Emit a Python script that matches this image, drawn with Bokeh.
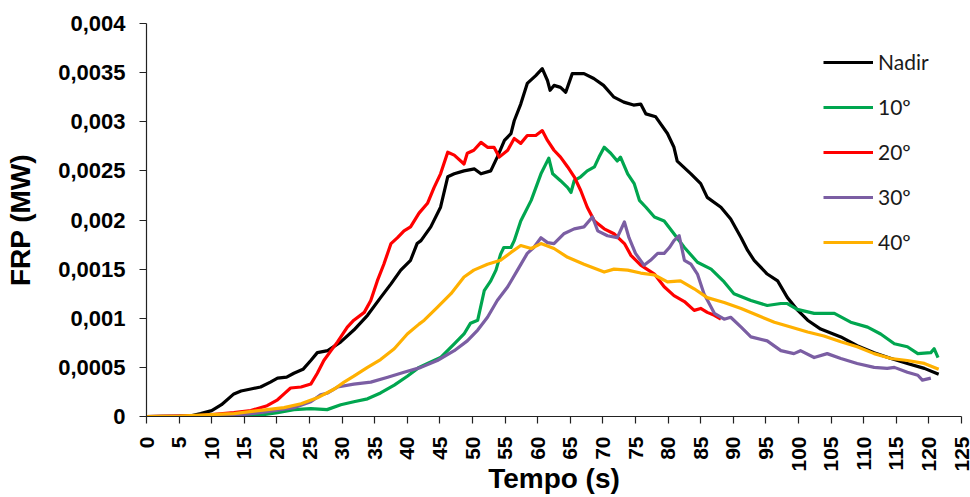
import math
from bokeh.plotting import figure
from bokeh.models import Range1d, FixedTicker, CustomJSTickFormatter, Legend, LegendItem
from bokeh.embed import file_html
from bokeh.resources import INLINE

# ---- data (time in s, FRP in MW) ----
nadir_t = [0, 5, 7, 8.3, 10, 11.5, 13.4, 14.5, 16, 17.5, 19, 20.1, 21.5, 22.6, 24, 25.2, 26.2, 27.8,
           29.8, 31.8, 33.9, 35.9, 37.5, 39, 40.5, 41.5, 42.1, 43.6, 45.1, 46.2, 47.2, 48.7, 50.3,
           51.3, 52.8, 53.8, 54.9, 55.9, 56.4, 57.4, 58.4, 59.7, 60.7, 61.5, 61.9, 62.5, 63.5, 64.3,
           65.3, 67.1, 68.6, 70.1, 71.7, 73.2, 74.7, 75.8, 76.6, 78.1, 79.9, 80.9, 81.4, 83.5, 85,
           86, 88.1, 89.6, 91.2, 92.2, 93.2, 95.2, 96.8, 98.3, 99.9, 101.4, 103.4, 106.5, 109,
           111.6, 114.2, 116.7, 119.3, 121.5]
nadir_frp = [0, 0.000005, 0.00001, 0.00003, 0.00006, 0.00012, 0.00023, 0.00026, 0.00028, 0.0003,
             0.00035, 0.00039, 0.0004, 0.00044, 0.00048, 0.00057, 0.00065, 0.00067, 0.00076,
             0.00088, 0.00103, 0.00121, 0.00135, 0.00149, 0.00159, 0.00176, 0.00179, 0.00193,
             0.00213, 0.00244, 0.00247, 0.0025, 0.00252, 0.00247, 0.0025, 0.00264, 0.00281,
             0.00288, 0.00301, 0.00318, 0.00339, 0.00347, 0.00354, 0.00342, 0.00332, 0.00337,
             0.00335, 0.0033, 0.00349, 0.00349, 0.00344, 0.00337, 0.00325, 0.0032, 0.00317,
             0.00318, 0.00308, 0.00305, 0.00288, 0.00274, 0.0026, 0.00247, 0.00237, 0.00223,
             0.00213, 0.00201, 0.00182, 0.00169, 0.00159, 0.00145, 0.00138, 0.00121, 0.00108,
             0.00098, 0.00089, 0.00081, 0.00072, 0.00065, 0.00059, 0.00054, 0.00049, 0.00043]

d10_t = [0, 10, 15, 17, 20.1, 22.6, 25.2, 27.7, 29.8, 31.8, 33.9, 35.9, 38, 40, 41.8, 43.1, 45.1,
         47.2, 48.7, 49.7, 50.8, 51.8, 52.8, 53.6, 54.3, 54.8, 55.9, 56.4, 57.4, 59, 60.5, 61.7,
         62.3, 63.5, 64.6, 65.1, 65.6, 66.6, 67.6, 68.7, 69.4, 70.2, 71.2, 72.2, 72.7, 73.8, 74.8,
         75.6, 76.6, 77.9, 79.4, 80.9, 82.5, 84.5, 86.6, 88.6, 90.1, 92.7, 95.2, 97.3, 98.3, 99.8,
         102.4, 105.5, 108, 110.6, 112.6, 114.7, 116.7, 118.3, 120.3, 120.8, 121.4]
d10_frp = [0, 0, 0.000005, 0.00001, 0.00004, 0.00007, 0.00008, 0.00007, 0.00012, 0.00015, 0.00018,
           0.00024, 0.00032, 0.00041, 0.0005, 0.00054, 0.0006, 0.00074, 0.00084, 0.00095,
           0.00098, 0.00128, 0.00138, 0.00149, 0.00165, 0.00172, 0.00172, 0.00179, 0.00199,
           0.0022, 0.00247, 0.00263, 0.00247, 0.0024, 0.00233, 0.00228, 0.0024, 0.00244, 0.0025,
           0.00254, 0.00264, 0.00274, 0.00268, 0.0026, 0.00264, 0.00247, 0.00237, 0.0022,
           0.00213, 0.00203, 0.00199, 0.00186, 0.00172, 0.00157, 0.0015, 0.00137, 0.00125,
           0.00118, 0.00113, 0.00115, 0.00115, 0.00109, 0.00105, 0.00105, 0.00096, 0.00091,
           0.00084, 0.00074, 0.00071, 0.00064, 0.00065, 0.00069, 0.0006]

d20_t = [0, 8, 10, 13.4, 16, 18.5, 20.1, 21.1, 22.1, 23.7, 25.2, 26.2, 27.2, 28.3, 29.3, 30.8, 31.8,
         33.4, 34.4, 35.4, 36.4, 37.5, 38.5, 39.5, 40.5, 41.8, 43.1, 44.1, 45.1, 46.2, 47.2, 48.7,
         49.2, 50.2, 51.3, 52.3, 53.3, 54.1, 55.4, 56.4, 57.4, 58.4, 59.7, 60.7, 61.5, 62.5, 63.5,
         64.6, 65.6, 66.6, 67.6, 68.7, 70.2, 71.7, 73.3, 74.3, 75.8, 77.9, 79.4, 80.9, 82.5, 84,
         85, 86, 87.1, 88.1]
d20_frp = [0, 0.00001, 0.00002, 0.00004, 0.00006, 0.00011, 0.00017, 0.00023, 0.00029, 0.0003,
           0.00033, 0.00044, 0.00057, 0.00067, 0.00076, 0.00091, 0.00098, 0.00106, 0.00118,
           0.00138, 0.00155, 0.00176, 0.00182, 0.00189, 0.00193, 0.00207, 0.00217, 0.00233,
           0.00247, 0.00269, 0.00266, 0.00257, 0.00268, 0.00271, 0.00279, 0.00274, 0.00274,
           0.00264, 0.00271, 0.00283, 0.00278, 0.00286, 0.00286, 0.00291, 0.00281, 0.00271,
           0.00264, 0.00254, 0.00244, 0.0023, 0.00213, 0.00199, 0.00191, 0.00186, 0.00176,
           0.00164, 0.00154, 0.00145, 0.00132, 0.00123, 0.00117, 0.00108, 0.0011, 0.00106,
           0.00103, 0.00099]

d30_t = [0, 10, 15, 18.5, 22.6, 25.2, 26.7, 27.8, 29.3, 31.8, 34.4, 37, 39.5, 42.1, 44.6, 47.2,
         49.2, 50.8, 52.3, 53.8, 55.4, 56.9, 58.4, 59.4, 60.5, 61.5, 62.5, 64, 65.6, 67.1, 68.4,
         69.2, 70.7, 72.2, 73.3, 74, 75, 76.3, 77.3, 78.4, 79.4, 80.2, 80.9, 81.7, 82.5, 83.5,
         84.5, 85.5, 87.1, 88.6, 89.6, 91.2, 92.7, 95.2, 97.3, 99.3, 100.3, 102.4, 104.4, 106.5,
         109, 111.6, 113.6, 114.7, 116.7, 118.3, 119, 120.3]
d30_frp = [0, 0.000005, 0.00002, 0.00005, 0.00009, 0.00015, 0.00022, 0.00024, 0.0003, 0.00033,
           0.00035, 0.0004, 0.00045, 0.0005, 0.00057, 0.00067, 0.00077, 0.00088, 0.00101,
           0.00118, 0.00132, 0.00149, 0.00166, 0.00172, 0.00182, 0.00177, 0.00176, 0.00186,
           0.00191, 0.00193, 0.00203, 0.00189, 0.00184, 0.00182, 0.00198, 0.00182, 0.00166,
           0.00154, 0.00159, 0.00166, 0.00166, 0.00172, 0.00179, 0.00184, 0.00159, 0.00155,
           0.00145, 0.00125, 0.00105, 0.00099, 0.00101, 0.00091, 0.00081, 0.00077, 0.00067,
           0.00064, 0.00067, 0.0006, 0.00064, 0.00059, 0.00054, 0.0005, 0.00049, 0.0005,
           0.00045, 0.00042, 0.00037, 0.00039]

d40_t = [0, 5, 10, 13.4, 18.5, 21.1, 23.7, 26.2, 28.8, 30.3, 31.8, 33.9, 35.9, 38, 40, 41.8, 42.6,
         44.6, 46.7, 48.7, 50.2, 52.3, 54.3, 55.9, 57.4, 59, 60.5, 62.5, 64.6, 67.1, 70.2, 71.7,
         73.8, 75.8, 77.9, 79.9, 81.9, 84, 86, 88.6, 91.2, 93.7, 96.3, 98.8, 101.4, 103.9, 106.5,
         109, 111.6, 114.2, 116.7, 119.3, 121.5]
d40_frp = [0, 0.000005, 0.00002, 0.00003, 0.00007, 0.00009, 0.00013, 0.00019, 0.00028, 0.00035,
           0.00041, 0.0005, 0.00058, 0.00069, 0.00084, 0.00094, 0.00098, 0.00111, 0.00125,
           0.00142, 0.00149, 0.00155, 0.00159, 0.00167, 0.00174, 0.00171, 0.00176, 0.00171,
           0.00162, 0.00155, 0.00147, 0.0015, 0.00149, 0.00146, 0.00144, 0.00137, 0.00138,
           0.0013, 0.00121, 0.00116, 0.0011, 0.00103, 0.00096, 0.00091, 0.00086, 0.00082,
           0.00076, 0.00071, 0.00064, 0.00059, 0.00057, 0.00054, 0.00048]

series_labels = ["Nadir", "10º", "20º", "30º", "40º"]
series_colors = ["#000000", "#00A64F", "#FF0000", "#7B5EA3", "#FFB000"]
x_ticks = list(range(0, 130, 5))
y_ticks = [0, 0.0005, 0.001, 0.0015, 0.002, 0.0025, 0.003, 0.0035, 0.004]
x_title = "Tempo (s)"
y_title = "FRP (MW)"

p = figure(width=970, height=497, output_backend="svg", toolbar_location=None,
           x_range=Range1d(0, 125), y_range=Range1d(0, 0.004),
           min_border_left=146, min_border_right=9, min_border_top=23, min_border_bottom=81)
p.outline_line_color = None
p.grid.visible = False

series = [(nadir_t, nadir_frp), (d10_t, d10_frp), (d20_t, d20_frp), (d30_t, d30_frp), (d40_t, d40_frp)]
items = []
for (t, v), lab, col in zip(series, series_labels, series_colors):
    r = p.line(t, v, line_color=col, line_width=3.2, line_join="round")
    items.append(LegendItem(label=lab, renderers=[r]))

for ax in (p.xaxis[0], p.yaxis[0]):
    ax.axis_line_color = "#222222"
    ax.axis_line_width = 1.2
    ax.major_tick_line_color = "#222222"
    ax.major_tick_line_width = 1.2
    ax.major_tick_in = 0
    ax.major_tick_out = 7
    ax.minor_tick_in = 0
    ax.minor_tick_out = 0
    ax.major_label_text_font = "Liberation Sans"
    ax.major_label_text_font_style = "bold"
    ax.major_label_text_font_size = "22px"
    ax.major_label_text_color = "#000000"
    ax.axis_label_text_font = "Liberation Sans"
    ax.axis_label_text_font_style = "bold"
    ax.axis_label_text_font_size = "28px"
    ax.axis_label_text_color = "#000000"

p.xaxis.ticker = FixedTicker(ticks=x_ticks)
p.xaxis.major_label_orientation = math.pi / 2
p.xaxis.major_label_text_font_size = "21px"
p.xaxis.major_label_standoff = 13
p.xaxis.axis_label = x_title
p.xaxis.axis_label_standoff = -12

p.yaxis.ticker = FixedTicker(ticks=y_ticks)
p.yaxis.formatter = CustomJSTickFormatter(
    code="if (tick == 0) { return '0'; } return String(Number(tick.toPrecision(6))).replace('.', ',');")
p.yaxis.major_label_standoff = 14
p.yaxis.axis_label = y_title
p.yaxis.axis_label_standoff = 19

legend = Legend(items=items, location=(677, 162), orientation="vertical",
                glyph_width=50, glyph_height=20, label_height=20, spacing=20,
                padding=0, margin=0, label_standoff=5,
                border_line_color=None, background_fill_alpha=0,
                label_text_font="Lato", label_text_font_size="21px", label_text_color="#1a1a1a")
p.add_layout(legend)

open("out.html", "w").write(file_html(p, INLINE))
